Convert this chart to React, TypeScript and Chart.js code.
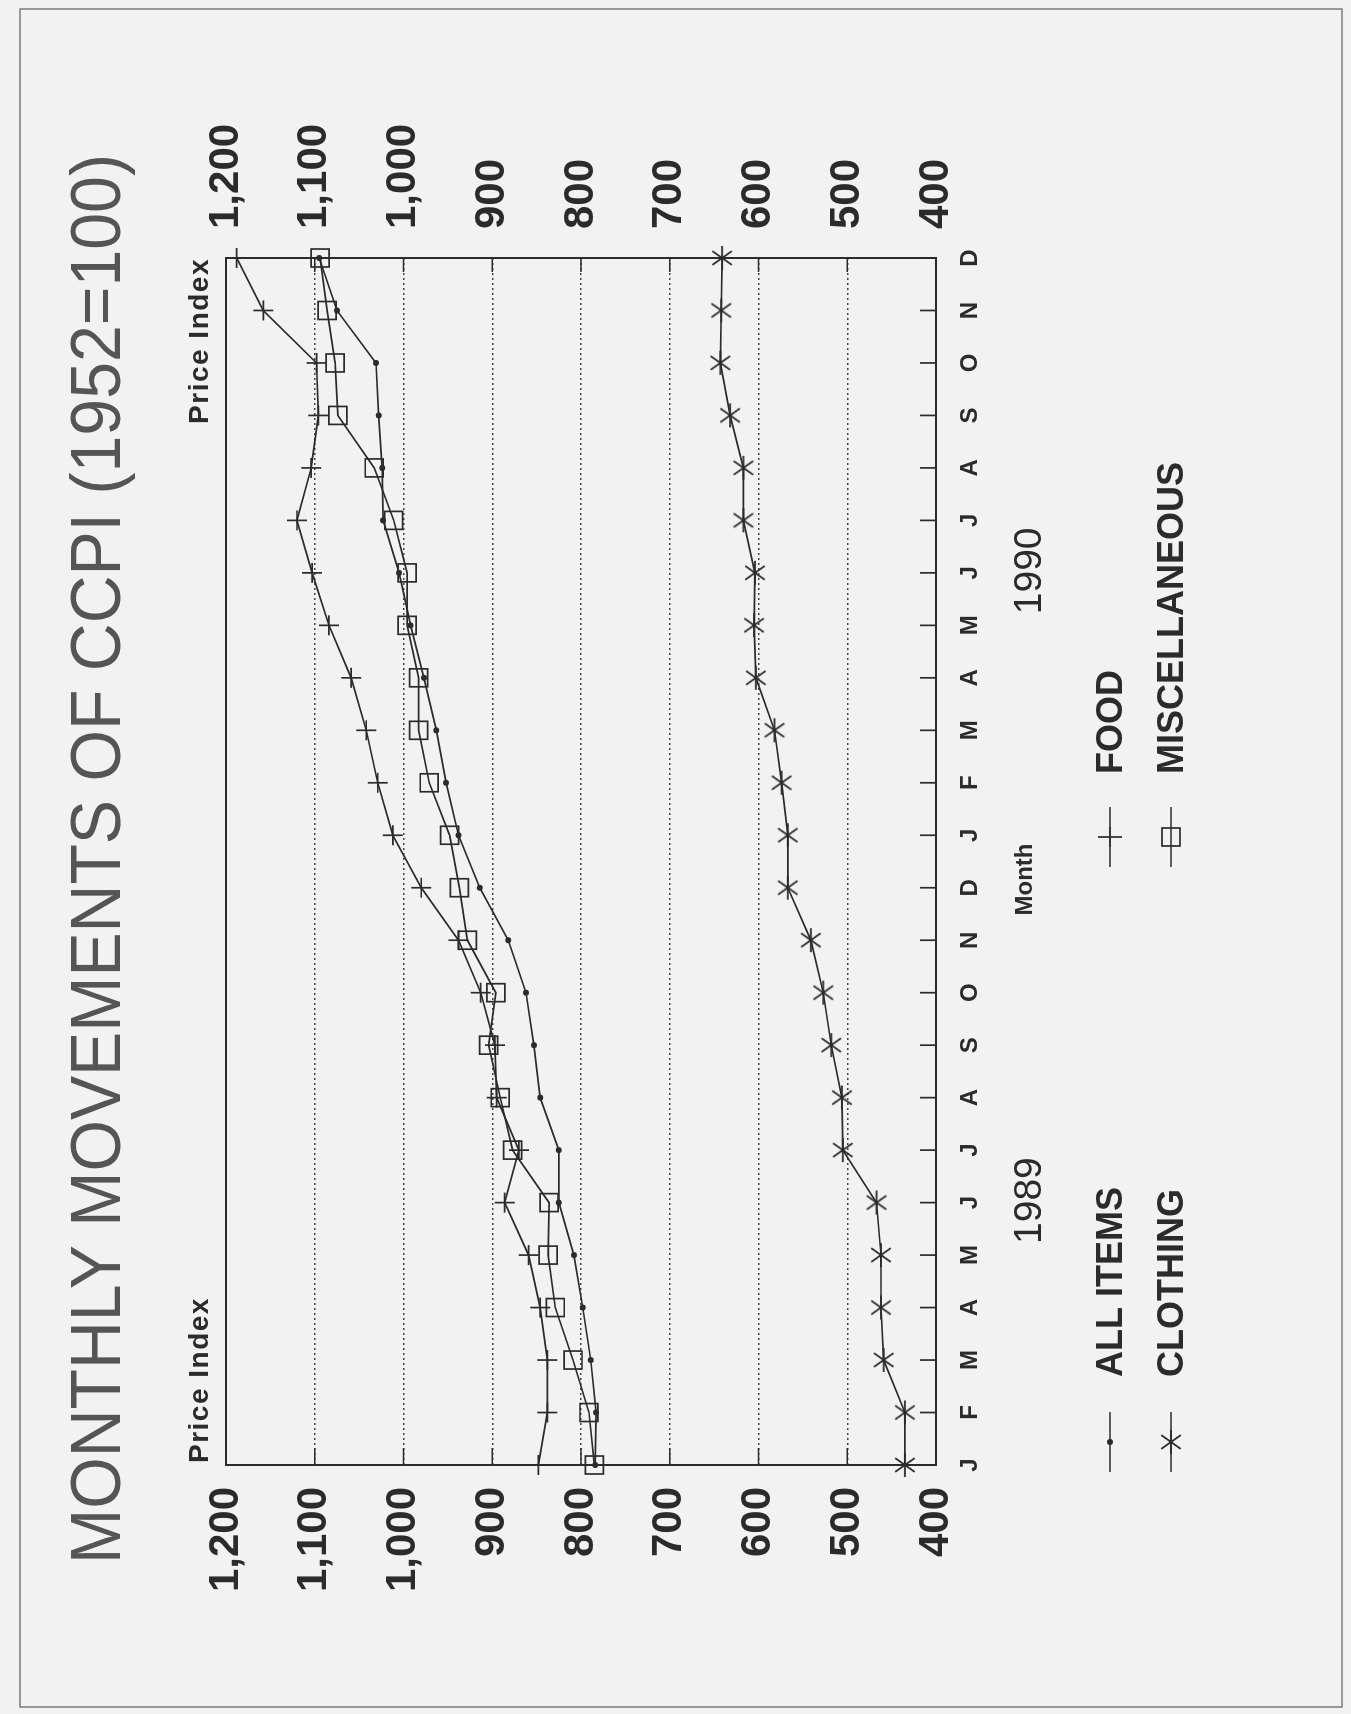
import React, { useEffect, useRef } from 'react';
import { Chart, registerables } from 'chart.js';

Chart.register(...registerables);

// ---------- data ----------
const months = ['J', 'F', 'M', 'A', 'M', 'J', 'J', 'A', 'S', 'O', 'N', 'D', 'J', 'F', 'M', 'A', 'M', 'J', 'J', 'A', 'S', 'O', 'N', 'D'];
const yearLabels = ['1989', '1990'];
const yearCenterIndex = [5, 17];
const allItems = [784, 783, 789, 798, 808, 825, 825, 846, 853, 862, 882, 914, 938, 952, 963, 977, 992, 1005, 1023, 1024, 1028, 1031, 1075, 1095];
const food = [848, 838, 838, 846, 859, 886, 870, 895, 897, 913, 938, 980, 1012, 1029, 1042, 1059, 1084, 1103, 1120, 1104, 1096, 1098, 1158, 1188];
const clothing = [435, 435, 459, 462, 462, 467, 505, 506, 518, 527, 541, 567, 567, 574, 582, 603, 605, 604, 617, 617, 632, 643, 642, 641];
const miscellaneous = [785, 791, 809, 829, 837, 836, 877, 891, 904, 896, 928, 937, 948, 971, 983, 983, 996, 996, 1011, 1033, 1074, 1077, 1086, 1094];
const seriesNames = ['ALL ITEMS', 'FOOD', 'CLOTHING', 'MISCELLANEOUS'];
const valueMin = 400;
const valueMax = 1200;
const valueStep = 100;
const titleText = 'MONTHLY MOVEMENTS OF CCPI (1952=100)';
const valueAxisTitle = 'Price Index';
const monthAxisTitle = 'Month';

// ---------- layout (unrotated canvas coordinates) ----------
const W = 1714;
const H = 1351;
const CA = { left: 249, right: 1456, top: 226, bottom: 936 };
const INK = '#2b2b2b';
const PAPER = '#f2f2f0';
const FONT = '"Liberation Sans", Arial, Helvetica, sans-serif';

const fmt = (v: number) => {
  const s = String(Math.round(v));
  return s.length > 3 ? s.slice(0, s.length - 3) + ',' + s.slice(s.length - 3) : s;
};

function makeAsterisk(r: number, lw: number, color: string) {
  const c = document.createElement('canvas');
  const s = Math.ceil(2 * r + 4);
  c.width = s;
  c.height = s;
  const g = c.getContext('2d')!;
  g.strokeStyle = color;
  g.lineWidth = lw;
  for (const a of [0, 55, 125]) {
    const rad = (a * Math.PI) / 180;
    g.beginPath();
    g.moveTo(s / 2 - r * Math.cos(rad), s / 2 - r * Math.sin(rad));
    g.lineTo(s / 2 + r * Math.cos(rad), s / 2 + r * Math.sin(rad));
    g.stroke();
  }
  return c;
}

function drawMarker(ctx: CanvasRenderingContext2D, kind: string, x: number, y: number, star: HTMLCanvasElement) {
  ctx.save();
  ctx.strokeStyle = INK;
  ctx.fillStyle = INK;
  ctx.lineWidth = 1.7;
  if (kind === 'dot') {
    ctx.beginPath();
    ctx.arc(x, y, 3, 0, Math.PI * 2);
    ctx.fill();
  } else if (kind === 'cross') {
    ctx.beginPath();
    ctx.moveTo(x - 10, y);
    ctx.lineTo(x + 10, y);
    ctx.moveTo(x, y - 12);
    ctx.lineTo(x, y + 12);
    ctx.stroke();
  } else if (kind === 'star') {
    ctx.drawImage(star, x - star.width / 2, y - star.height / 2);
  } else if (kind === 'rect') {
    ctx.strokeRect(x - 9, y - 9, 18, 18);
  }
  ctx.restore();
}

export default function App() {
  const ref = useRef<HTMLCanvasElement>(null);

  useEffect(() => {
    document.body.style.margin = '0';
    document.body.style.overflow = 'hidden';
    document.body.style.background = PAPER;
    const star = makeAsterisk(12, 1.8, INK);
    const markerKinds = ['dot', 'cross', 'star', 'rect'];

    const decor = {
      id: 'decor',
      beforeDraw(chart: any) {
        const ctx = chart.ctx as CanvasRenderingContext2D;
        ctx.save();
        ctx.fillStyle = PAPER;
        ctx.fillRect(0, 0, chart.width, chart.height);
        ctx.strokeStyle = '#7c7c7c';
        ctx.lineWidth = 1.5;
        ctx.strokeRect(7, 20, 1698, 1322);
        ctx.restore();
      },
      afterDraw(chart: any) {
        const ctx = chart.ctx as CanvasRenderingContext2D;
        const a = chart.chartArea;
        const xs = chart.scales.x;
        const ys = chart.scales.y;
        ctx.save();
        // plot frame
        ctx.strokeStyle = INK;
        ctx.lineWidth = 2;
        ctx.strokeRect(a.left, a.top, a.right - a.left, a.bottom - a.top);
        // inward ticks
        ctx.lineWidth = 1.7;
        ctx.beginPath();
        for (let i = 0; i < months.length; i++) {
          const px = xs.getPixelForValue(i);
          ctx.moveTo(px, a.bottom);
          ctx.lineTo(px, a.bottom - 16);
        }
        for (let v = valueMin + valueStep; v < valueMax; v += valueStep) {
          const py = ys.getPixelForValue(v);
          ctx.moveTo(a.left, py);
          ctx.lineTo(a.left + 17, py);
          ctx.moveTo(a.right, py);
          ctx.lineTo(a.right - 14, py);
        }
        ctx.stroke();

        // title
        ctx.fillStyle = '#555555';
        ctx.font = `70px ${FONT}`;
        ctx.textAlign = 'center';
        ctx.textBaseline = 'alphabetic';
        const tw = ctx.measureText(titleText).width;
        ctx.save();
        ctx.translate(855, 120);
        ctx.scale(1410 / tw, 1);
        ctx.fillText(titleText, 0, 0);
        ctx.restore();

        // Price Index labels
        ctx.fillStyle = INK;
        ctx.font = `bold 28px ${FONT}`;
        (ctx as any).letterSpacing = '1.5px';
        ctx.textAlign = 'left';
        ctx.fillText(valueAxisTitle, a.left + 2, 208);
        ctx.textAlign = 'right';
        ctx.fillText(valueAxisTitle, a.right, 208);
        (ctx as any).letterSpacing = '0px';

        // Month
        ctx.font = `bold 24px ${FONT}`;
        ctx.textAlign = 'center';
        ctx.fillText(monthAxisTitle, (a.left + a.right) / 2 - 18, 1032);

        // years
        ctx.font = `39px ${FONT}`;
        yearLabels.forEach((y, k) => {
          ctx.fillText(y, xs.getPixelForValue(yearCenterIndex[k]) + 2, 1041);
        });

        // legend
        const cols = [272, 877];
        const textX = [337, 940];
        const rows = [1110, 1171];
        ctx.font = `bold 36px ${FONT}`;
        ctx.textAlign = 'left';
        ctx.textBaseline = 'middle';
        seriesNames.forEach((name, k) => {
          const c = k % 2;
          const r = Math.floor(k / 2);
          const cx = cols[c];
          const cy = rows[r];
          ctx.strokeStyle = INK;
          ctx.lineWidth = 1.7;
          ctx.beginPath();
          ctx.moveTo(cx - 30, cy);
          ctx.lineTo(cx + 30, cy);
          ctx.stroke();
          drawMarker(ctx, markerKinds[k], cx, cy, star);
          ctx.fillStyle = INK;
          ctx.fillText(name, textX[c], cy + 2);
        });
        ctx.restore();
      },
    };

    const valueTicks = {
      stepSize: valueStep,
      color: INK,
      font: { family: FONT, size: 42, weight: 'bold' as const },
      callback: (v: any) => fmt(Number(v)),
    };

    const chart = new Chart(ref.current!, {
      type: 'line',
      data: {
        labels: months,
        datasets: [
          {
            label: seriesNames[0],
            data: allItems,
            borderColor: INK,
            borderWidth: 1.7,
            pointStyle: 'circle',
            pointRadius: 3,
            pointBackgroundColor: INK,
            pointBorderColor: INK,
            pointBorderWidth: 0,
            tension: 0,
          },
          {
            label: seriesNames[1],
            data: food,
            borderColor: INK,
            borderWidth: 1.7,
            pointStyle: 'cross',
            pointRadius: 10,
            pointBorderColor: INK,
            pointBorderWidth: 1.7,
            tension: 0,
          },
          {
            label: seriesNames[2],
            data: clothing,
            borderColor: INK,
            borderWidth: 1.7,
            pointStyle: star as any,
            pointRadius: 12,
            pointBorderColor: INK,
            tension: 0,
          },
          {
            label: seriesNames[3],
            data: miscellaneous,
            borderColor: INK,
            borderWidth: 1.7,
            pointStyle: 'rect',
            pointRadius: 12.7,
            pointBackgroundColor: 'rgba(0,0,0,0)',
            pointBorderColor: INK,
            pointBorderWidth: 1.7,
            tension: 0,
          },
        ],
      },
      options: {
        animation: false,
        responsive: false,
        devicePixelRatio: 1,
        layout: { padding: { left: 0, right: 0, top: CA.top, bottom: 0 } },
        plugins: {
          legend: { display: false },
          title: { display: false },
          tooltip: { enabled: false },
        },
        scales: {
          x: {
            type: 'category',
            offset: false,
            grid: { display: false, drawTicks: false },
            border: { display: false },
            ticks: {
              autoSkip: false,
              maxRotation: 0,
              minRotation: 0,
              padding: 20,
              color: INK,
              font: { family: FONT, size: 24, weight: 'bold' },
            },
            afterFit: (s: any) => {
              s.height = H - CA.bottom;
            },
          },
          y: {
            position: 'left',
            min: valueMin,
            max: valueMax,
            ticks: { ...valueTicks, padding: 22 },
            grid: { color: '#444444', lineWidth: 1.4, drawTicks: false },
            border: { display: false, dash: [2, 3] },
            afterFit: (s: any) => {
              s.width = CA.left;
            },
          },
          y2: {
            position: 'right',
            min: valueMin,
            max: valueMax,
            ticks: { ...valueTicks, padding: 29 },
            grid: { display: false, drawTicks: false, drawOnChartArea: false },
            border: { display: false },
            afterFit: (s: any) => {
              s.width = W - CA.right;
            },
          },
        },
      } as any,
      plugins: [decor],
    });
    return () => chart.destroy();
  }, []);

  return (
    <div
      style={{
        position: 'absolute',
        left: 0,
        top: 0,
        width: W,
        height: H,
        transformOrigin: '0 0',
        transform: `translateY(${W}px) rotate(-90deg)`,
      }}
    >
      <canvas ref={ref} width={W} height={H} style={{ display: 'block', width: W, height: H }} />
    </div>
  );
}
